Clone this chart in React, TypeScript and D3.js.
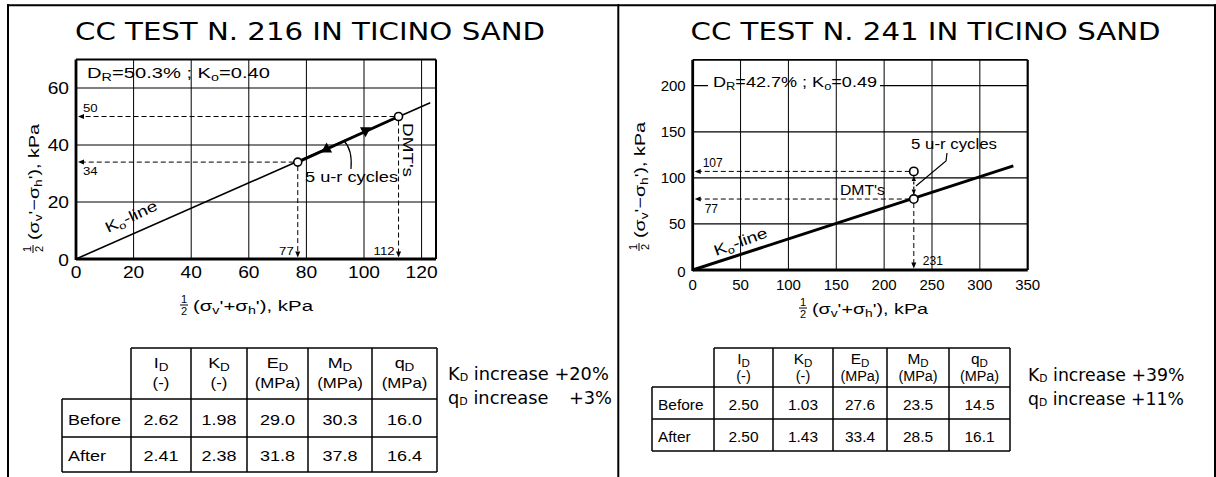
import React from 'react';
import * as d3 from 'd3';

const W = 1216;
const H = 477;
const HELV = '"Liberation Sans", Arial, Helvetica, sans-serif';
const TAHO = '"DejaVu Sans", Verdana, sans-serif';

// ---------- data ----------
const titles = ['CC TEST N. 216 IN TICINO SAND', 'CC TEST N. 241 IN TICINO SAND'];

// test 216
const xTicks216 = [0, 20, 40, 60, 80, 100, 120];
const yTicks216 = [0, 20, 40, 60];
const xDomain216 = [0, 125];
const yDomain216 = [0, 70];
const koLine216 = [{ x: 0, y: 0 }, { x: 123, y: 54.8 }];
const dmt216 = [{ x: 77, y: 34 }, { x: 112, y: 50 }];
const cycles216 = [{ x: 87, y: 38.8, dir: 'up' }, { x: 100.5, y: 44.8, dir: 'down' }];
const state216 = { dr: '50.3%', ko: '0.40' };

// test 241
const xTicks241 = [0, 50, 100, 150, 200, 250, 300, 350];
const yTicks241 = [0, 50, 100, 150, 200];
const xDomain241 = [0, 350];
const yDomain241 = [0, 200];
const yTop241 = 228;
const koLine241 = [{ x: 0, y: 0 }, { x: 335, y: 113 }];
const dmt241 = [{ x: 231, y: 77 }, { x: 231, y: 107 }];
const state241 = { dr: '42.7%', ko: '0.49' };

// tables
const tableSyms = ['I', 'K', 'E', 'M', 'q'];
const tableUnits = ['(-)', '(-)', '(MPa)', '(MPa)', '(MPa)'];
const rowLabels = ['Before', 'After'];
const values216 = [
  ['2.62', '1.98', '29.0', '30.3', '16.0'],
  ['2.41', '2.38', '31.8', '37.8', '16.4'],
];
const values241 = [
  ['2.50', '1.03', '27.6', '23.5', '14.5'],
  ['2.50', '1.43', '33.4', '28.5', '16.1'],
];
const increaseSyms = ['K', 'q'];
const increases216 = ['+20%', '+3%'];
const increases241 = ['+39%', '+11%'];

// ---------- helpers ----------
function T({ x, y, size = 15, anchor = 'start', sx = 1, w, family = HELV, rotate = 0, children }: any) {
  const tf = `translate(${x},${y})` + (rotate ? ` rotate(${rotate})` : '') + (sx !== 1 ? ` scale(${sx},1)` : '');
  const extra: any = w ? { textLength: w, lengthAdjust: 'spacingAndGlyphs' } : {};
  return (
    <g transform={tf}>
      <text x={0} y={0} fontSize={size} fontFamily={family} textAnchor={anchor} fill="#000" {...extra}>
        {children}
      </text>
    </g>
  );
}

function Arrow({ x, y, dir, len = 6, hw = 2.5 }: any) {
  let pts = '';
  if (dir === 'left') pts = `${x},${y} ${x + len},${y - hw} ${x + len},${y + hw}`;
  if (dir === 'right') pts = `${x},${y} ${x - len},${y - hw} ${x - len},${y + hw}`;
  if (dir === 'down') pts = `${x},${y} ${x - hw},${y - len} ${x + hw},${y - len}`;
  if (dir === 'up') pts = `${x},${y} ${x - hw},${y + len} ${x + hw},${y + len}`;
  return <polygon points={pts} fill="#000" />;
}

function Frac({ x, y, size = 11 }: any) {
  return (
    <g>
      <text x={x} y={y - 2} fontSize={size} fontFamily={HELV} textAnchor="middle">1</text>
      <line x1={x - 4} x2={x + 4} y1={y} y2={y} stroke="#000" strokeWidth={1} />
      <text x={x} y={y + size - 1} fontSize={size} fontFamily={HELV} textAnchor="middle">2</text>
    </g>
  );
}

function AxisLabel({ sign, size = 15, w = 118 }: any) {
  return (
    <g>
      <Frac x={-9} y={-6} />
      <text x={0} y={0} fontSize={size} fontFamily={HELV} textLength={w} lengthAdjust="spacingAndGlyphs">
        (σ<tspan fontSize={size * 0.7} dy={3}>v</tspan><tspan dy={-3}>'{sign}σ</tspan>
        <tspan fontSize={size * 0.7} dy={3}>h</tspan><tspan dy={-3}>'), kPa</tspan>
      </text>
    </g>
  );
}

function Table({ left, cols, rows, values, hb1, hb2, rb, sx, size }: any) {
  const right = cols[cols.length - 1];
  const sw = 1.5;
  return (
    <g>
      <line x1={cols[0]} x2={right} y1={rows[0]} y2={rows[0]} stroke="#000" strokeWidth={sw} />
      {rows.slice(1).map((r: number, i: number) => (
        <line key={'h' + i} x1={left} x2={right} y1={r} y2={r} stroke="#000" strokeWidth={sw} />
      ))}
      <line x1={left} x2={left} y1={rows[1]} y2={rows[3]} stroke="#000" strokeWidth={sw} />
      {cols.map((c: number, i: number) => (
        <line key={'v' + i} x1={c} x2={c} y1={rows[0]} y2={rows[3]} stroke="#000" strokeWidth={sw} />
      ))}
      {tableSyms.map((s, i) => {
        const cx = (cols[i] + cols[i + 1]) / 2;
        return (
          <g key={'hd' + i}>
            <T x={cx} y={hb1} size={size} anchor="middle" sx={sx}>
              {s}<tspan fontSize={size * 0.75} dy={3}>D</tspan>
            </T>
            <T x={cx} y={hb2} size={size - 1} anchor="middle" sx={sx}>{tableUnits[i]}</T>
          </g>
        );
      })}
      {rowLabels.map((lab, r) => (
        <g key={'r' + r}>
          <T x={left + 6} y={rb[r]} size={size} sx={sx}>{lab}</T>
          {values[r].map((v: string, i: number) => (
            <T key={i} x={(cols[i] + cols[i + 1]) / 2} y={rb[r]} size={size} anchor="middle" sx={sx}>{v}</T>
          ))}
        </g>
      ))}
    </g>
  );
}

function Increase({ x, y1, y2, end, values, size, split }: any) {
  return (
    <g>
      <text x={x} y={y1} fontSize={size} fontFamily={TAHO}>
        {increaseSyms[0]}<tspan fontSize={size * 0.62} dy={1}>D</tspan><tspan dy={-1}> increase {values[0]}</tspan>
      </text>
      {split ? (
        <g>
          <text x={x} y={y2} fontSize={size} fontFamily={TAHO}>
            {increaseSyms[1]}<tspan fontSize={size * 0.62} dy={1}>D</tspan><tspan dy={-1}> increase</tspan>
          </text>
          <text x={end} y={y2} fontSize={size} fontFamily={TAHO} textAnchor="end">{values[1]}</text>
        </g>
      ) : (
        <text x={x} y={y2} fontSize={size} fontFamily={TAHO}>
          {increaseSyms[1]}<tspan fontSize={size * 0.62} dy={1}>D</tspan><tspan dy={-1}> increase {values[1]}</tspan>
        </text>
      )}
    </g>
  );
}

// ---------- chart 216 ----------
function Chart216() {
  const x = d3.scaleLinear().domain(xDomain216).range([76, 436]);
  const y = d3.scaleLinear().domain(yDomain216).range([259, 59.5]);
  const [x0, x1] = x.range();
  const [y0, y1] = y.range();
  const line = d3.line<any>().x((d) => x(d.x)).y((d) => y(d.y));
  const sx = 1.2;
  return (
    <g>
      {xTicks216.filter((t) => t > 0).map((t) => (
        <line key={'gx' + t} x1={x(t)} x2={x(t)} y1={y0} y2={y1} stroke="#000" strokeWidth={1} />
      ))}
      {yTicks216.filter((t) => t > 0).map((t) => (
        <line key={'gy' + t} x1={x0} x2={x1} y1={y(t)} y2={y(t)} stroke="#000" strokeWidth={1.2} />
      ))}
      <line x1={x0} x2={x1} y1={y1} y2={y1} stroke="#000" strokeWidth={1.8} />
      <line x1={x1} x2={x1} y1={y1} y2={y0} stroke="#000" strokeWidth={2} />
      <line x1={x0} x2={x0} y1={y1} y2={y0 + 1} stroke="#000" strokeWidth={2.8} />
      <line x1={x0} x2={x1} y1={y0} y2={y0} stroke="#000" strokeWidth={2.8} />
      {yTicks216.map((t) => (
        <T key={'ty' + t} x={x0 - 7} y={y(t) + 5.5 + (t === 0 ? 1 : 0)} size={16} anchor="end" sx={sx}>{t}</T>
      ))}
      {xTicks216.map((t) => (
        <T key={'tx' + t} x={x(t)} y={y0 + 19} size={16} anchor="middle" sx={sx}>{t}</T>
      ))}
      {dmt216.map((p, i) => (
        <g key={'g' + i}>
          <line x1={x(p.x) - 4} x2={x0 + 6} y1={y(p.y)} y2={y(p.y)} stroke="#000" strokeWidth={1} strokeDasharray="5,3" />
          <Arrow x={x0 + 2} y={y(p.y)} dir="left" />
          <line x1={x(p.x)} x2={x(p.x)} y1={y(p.y) + 4} y2={y0 - 6} stroke="#000" strokeWidth={1} strokeDasharray="5,3" />
          <Arrow x={x(p.x)} y={y0 - 1.5} dir="down" />
          <T x={x0 + 7} y={i === 1 ? y(p.y) - 5 : y(p.y) + 13} size={11} sx={sx}>{p.y}</T>
          <T x={x(p.x) - 4} y={y0 - 4} size={11} anchor="end" sx={sx}>{p.x}</T>
        </g>
      ))}
      <path d={line(koLine216) || ''} fill="none" stroke="#000" strokeWidth={1.6} />
      <path d={line(dmt216) || ''} fill="none" stroke="#000" strokeWidth={2.8} />
      {cycles216.map((c, i) => {
        const cx = x(c.x);
        const cy = y(c.y);
        const pts = c.dir === 'up'
          ? `${cx},${cy - 6} ${cx - 5.5},${cy + 4} ${cx + 5.5},${cy + 4}`
          : `${cx},${cy + 6} ${cx - 5.5},${cy - 4} ${cx + 5.5},${cy - 4}`;
        return <polygon key={'c' + i} points={pts} fill="#000" />;
      })}
      {dmt216.map((p, i) => (
        <circle key={'p' + i} cx={x(p.x)} cy={y(p.y)} r={4} fill="#fff" stroke="#000" strokeWidth={1.6} />
      ))}
      <path d="M351,169 C352,157 350,147 344,141" fill="none" stroke="#000" strokeWidth={1.2} />
      <T x={305} y={182} size={15} w={93}>5 u-r cycles</T>
      <T x={403} y={123} size={15} w={54} rotate={90}>DMT's</T>
      <T x={108} y={233} size={15} w={56} rotate={-25}>
        K<tspan fontSize={10} dy={3}>o</tspan><tspan dy={-3}>-line</tspan>
      </T>
      <T x={87} y={78} size={14} w={183}>
        D<tspan fontSize={10} dy={3}>R</tspan><tspan dy={-3}>={state216.dr} ;  K</tspan>
        <tspan fontSize={10} dy={3}>o</tspan><tspan dy={-3}>={state216.ko}</tspan>
      </T>
      <g transform="translate(39,240) rotate(-90)"><AxisLabel sign="−" w={116} /></g>
      <g transform="translate(193,311)"><AxisLabel sign="+" w={120} /></g>
    </g>
  );
}

// ---------- chart 241 ----------
function Chart241() {
  const x = d3.scaleLinear().domain(xDomain241).range([692.7, 1027.7]);
  const y = d3.scaleLinear().domain(yDomain241).range([270, 85.7]);
  const [x0, x1] = x.range();
  const y0 = y(0);
  const y1 = y(yTop241);
  const line = d3.line<any>().x((d) => x(d.x)).y((d) => y(d.y));
  const sx = 1.0;
  const lower = dmt241[0];
  const upper = dmt241[1];
  return (
    <g>
      {yTicks241.filter((t) => t > 0).map((t) => (
        <line key={'gy' + t} x1={x0} x2={x1} y1={y(t)} y2={y(t)} stroke="#000" strokeWidth={1.2} />
      ))}
      <rect x={708} y={78} width={172} height={15} fill="#fff" />
      {xTicks241.filter((t) => t > 0 && t < 350).map((t) => (
        <line key={'gx' + t} x1={x(t)} x2={x(t)} y1={y0} y2={y1} stroke="#000" strokeWidth={1} />
      ))}
      <line x1={x0} x2={x1} y1={y1} y2={y1} stroke="#000" strokeWidth={1.8} />
      <line x1={x1} x2={x1} y1={y1} y2={y0} stroke="#000" strokeWidth={2.2} />
      <line x1={x0} x2={x0} y1={y1} y2={y0 + 1} stroke="#000" strokeWidth={2.8} />
      <line x1={x0} x2={x1} y1={y0} y2={y0} stroke="#000" strokeWidth={2.8} />
      {yTicks241.map((t) => (
        <T key={'ty' + t} x={x0 - 7} y={y(t) + 5 + (t === 0 ? 2 : 0)} size={15} anchor="end" sx={sx}>{t}</T>
      ))}
      {xTicks241.map((t) => (
        <T key={'tx' + t} x={x(t)} y={y0 + 19.5} size={15} anchor="middle" sx={sx}>{t}</T>
      ))}
      {dmt241.map((p, i) => (
        <g key={'g' + i}>
          <line x1={x(p.x) - 4} x2={x0 + 6} y1={y(p.y)} y2={y(p.y)} stroke="#000" strokeWidth={1} strokeDasharray="5,3" />
          <Arrow x={x0 + 2} y={y(p.y)} dir="left" />
          <T x={x0 + (i === 1 ? 10 : 12)} y={i === 1 ? y(p.y) - 4 : y(p.y) + 14} size={12} sx={sx}>{p.y}</T>
        </g>
      ))}
      <line x1={x(lower.x)} x2={x(lower.x)} y1={y(lower.y) + 4} y2={y0 - 6} stroke="#000" strokeWidth={1} strokeDasharray="5,3" />
      <Arrow x={x(lower.x)} y={y0 - 1.5} dir="down" />
      <T x={x(lower.x) + 9} y={y0 - 5} size={12} sx={sx}>{lower.x}</T>
      <line x1={x(upper.x)} x2={x(upper.x)} y1={y(upper.y) + 5} y2={y(lower.y) - 5} stroke="#000" strokeWidth={1.2} strokeDasharray="3,2" />
      <Arrow x={x(upper.x)} y={y(upper.y) + 4.5} dir="up" len={5} hw={2.2} />
      <Arrow x={x(lower.x)} y={y(lower.y) - 4.5} dir="down" len={5} hw={2.2} />
      <path d={line(koLine241) || ''} fill="none" stroke="#000" strokeWidth={3} />
      {dmt241.map((p, i) => (
        <circle key={'p' + i} cx={x(p.x)} cy={y(p.y)} r={4.2} fill="#fff" stroke="#000" strokeWidth={1.6} />
      ))}
      <path d="M947,153 L946,161 L916,186" fill="none" stroke="#000" strokeWidth={1.2} />
      <T x={911} y={149} size={14} w={86}>5 u-r cycles</T>
      <T x={840} y={195} size={15} w={45}>DMT's</T>
      <T x={716} y={256} size={15} w={56} rotate={-20}>
        K<tspan fontSize={10} dy={3}>o</tspan><tspan dy={-3}>-line</tspan>
      </T>
      <T x={713} y={87} size={14} w={164}>
        D<tspan fontSize={10} dy={3}>R</tspan><tspan dy={-3}>={state241.dr} ; K</tspan>
        <tspan fontSize={10} dy={3}>o</tspan><tspan dy={-3}>={state241.ko}</tspan>
      </T>
      <g transform="translate(645,238) rotate(-90)"><AxisLabel sign="−" w={116} /></g>
      <g transform="translate(812,314)"><AxisLabel sign="+" w={116} /></g>
    </g>
  );
}

export default function App() {
  return (
    <svg width={W} height={H} style={{ position: 'absolute', left: 0, top: 0, background: '#fff' }}>
      <rect x={0} y={0} width={W} height={H} fill="#fff" />
      <line x1={7} x2={1216} y1={5.3} y2={5.3} stroke="#000" strokeWidth={2} />
      <line x1={8} x2={8} y1={4.3} y2={H} stroke="#000" strokeWidth={2} />
      <line x1={618.3} x2={618.3} y1={4.3} y2={H} stroke="#000" strokeWidth={2} />
      <line x1={1215} x2={1215} y1={4.3} y2={H} stroke="#000" strokeWidth={2} />
      <text x={310} y={40} fontSize={24} fontFamily={TAHO} textAnchor="middle" textLength={470} lengthAdjust="spacingAndGlyphs">{titles[0]}</text>
      <text x={925.5} y={40} fontSize={24} fontFamily={TAHO} textAnchor="middle" textLength={470} lengthAdjust="spacingAndGlyphs">{titles[1]}</text>
      <Chart216 />
      <Chart241 />
      <Table left={62} cols={[131, 191, 247, 308, 372, 437]} rows={[348, 399, 437, 472]}
        values={values216} hb1={368} hb2={388} rb={[425, 461]} sx={1.2} size={15} />
      <Table left={652} cols={[714, 773, 833, 887, 949, 1010]} rows={[348, 387, 419, 451]}
        values={values241} hb1={364} hb2={381} rb={[410, 442]} sx={1.03} size={15} />
      <Increase x={448} y1={380} y2={404} end={612} values={increases216} size={17.8} split={true} />
      <Increase x={1028} y1={381} y2={405} end={1187} values={increases241} size={17.3} split={false} />
    </svg>
  );
}
